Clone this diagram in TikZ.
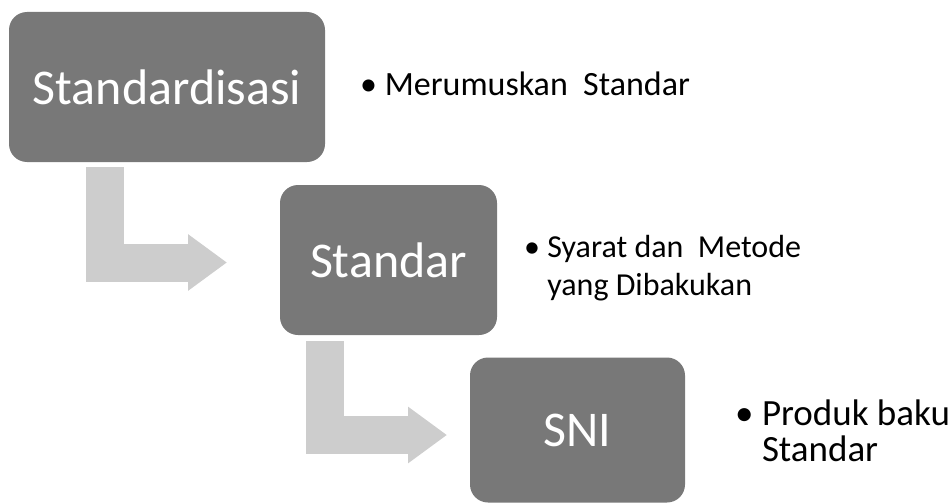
\documentclass[tikz,border=0pt]{standalone}
\usepackage{fontspec}
\setmainfont{Carlito}
\usetikzlibrary{arrows.meta}
\definecolor{boxgray}{HTML}{787878}
\definecolor{arrowgray}{HTML}{CDCDCD}

\begin{document}
\begin{tikzpicture}[x=1pt, y=-1pt,
	stagebox/.style={rectangle, rounded corners=18pt, fill=boxgray, text=white,
		font=\fontsize{50}{60}\selectfont, inner sep=0pt},
	bentarrow/.style={draw=arrowgray, line width=38pt, line join=miter,
		-{Triangle[width=54pt, length=39pt]}},
	note/.style={align=left, anchor=north west, inner sep=0pt}
]

\useasboundingbox (0, 0) rectangle (952, 503);

\node(0) [stagebox, minimum width=316pt, minimum height=150pt] at (167, 87) {Standardisasi};
\node [note, font=\fontsize{34}{38}\selectfont] at (360, 72) {
	• Merumuskan~~Standar
};

\node(1) [stagebox, minimum width=217pt, minimum height=150pt] at (388.5, 260) {Standar};
\node [note, font=\fontsize{32}{38}\selectfont] at (524, 235) {
	• Syarat dan~~Metode\\
	\hphantom{• }yang Dibakukan
};

\node(2) [stagebox, minimum width=215pt, minimum height=145pt] at (577.5, 430) {SNI};
\node [note, font=\fontsize{37}{36}\selectfont] at (735, 400) {
	• Produk baku\\
	\hphantom{• }Standar
};

\coordinate (t0) at (227, 262.5);
\coordinate (t1) at (447, 435);

\draw [bentarrow] ([shift={(-62, 5)}]0.south) |- (t0);
\draw [bentarrow] ([shift={(-64, 6)}]1.south) |- (t1);

\end{tikzpicture}
\end{document}
